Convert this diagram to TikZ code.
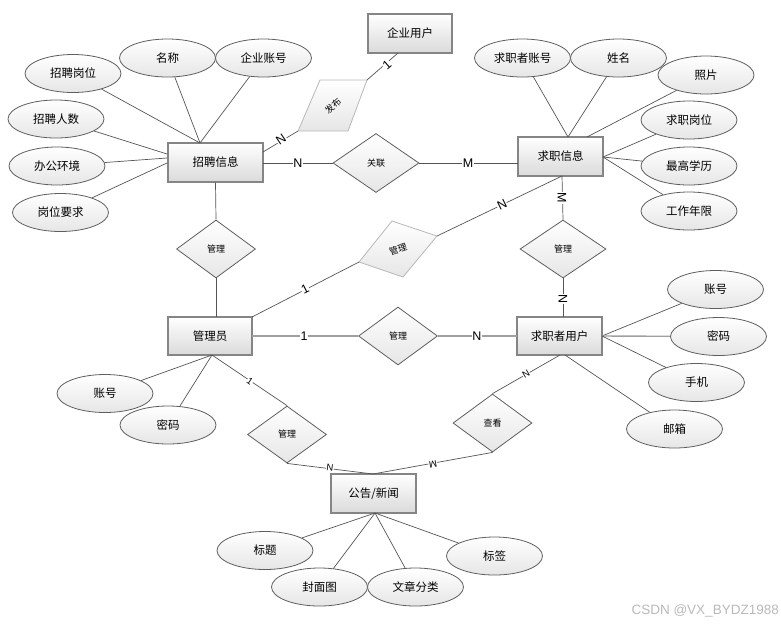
\documentclass[tikz,border=0pt]{standalone}
\usepackage{fontspec}
\setmainfont{Noto Sans CJK SC}
\newfontfamily\latf{Liberation Sans}
\usetikzlibrary{shapes.geometric,shadows}
\definecolor{lnc}{HTML}{555555}
\definecolor{entb}{HTML}{858585}
\definecolor{attb}{HTML}{5E5E5E}
\definecolor{relb}{HTML}{5E5E5E}
\definecolor{skb}{HTML}{B8B8B8}
\definecolor{fillb}{HTML}{DADADA}
\definecolor{fillc}{HTML}{E6E6E6}
\begin{document}
\begin{tikzpicture}[x=1pt,y=-1pt,
  ent/.style={rectangle, draw=entb, line width=1.1pt, top color=white, bottom color=fillb,
    minimum width=85pt, minimum height=39pt, inner sep=0pt,
    font=\fontsize{11.5pt}{13pt}\selectfont,
    drop shadow={shadow xshift=1.3pt,shadow yshift=-1.3pt,opacity=0.3}},
  attr/.style={ellipse, draw=attb, line width=0.8pt, top color=white, bottom color=fillc,
    minimum width=96pt, minimum height=38pt, inner sep=0pt,
    font=\fontsize{11.5pt}{13pt}\selectfont},
  rel/.style={diamond, draw=relb, line width=0.8pt, top color=white, bottom color=fillc,
    minimum width=79pt, minimum height=58pt, inner sep=0pt,
    font=\fontsize{9pt}{10pt}\selectfont},
  skew/.style={draw=skb, line width=0.8pt, top color=white, bottom color=fillc},
  dlabel/.style={inner sep=0pt, font=\fontsize{9pt}{10pt}\selectfont},
  ln/.style={draw=lnc, line width=0.7pt},
  lnt/.style={draw=gray!75, line width=1.4pt},
  card/.style={fill=white, inner sep=0.6pt, font=\latf\fontsize{12.5pt}{13pt}\selectfont},
  cards/.style={fill=white, inner sep=0.4pt, font=\latf\fontsize{9.5pt}{10pt}\selectfont}
]
\useasboundingbox (0,0) rectangle (781,625);

% ---------- entities ----------
\node[ent, minimum width=95pt] (zp) at (215.5,162.5) {招聘信息};
\node[ent, minimum width=84pt] (qy) at (410,33.5) {企业用户};
\node[ent] (qx) at (560.5,156.5) {求职信息};
\node[ent, minimum width=84pt, minimum height=38pt] (gly) at (210,336) {管理员};
\node[ent, minimum height=38pt] (qzy) at (559.5,336) {求职者用户};
\node[ent] (gg) at (373.5,493.5) {公告/新闻};

% ---------- attributes ----------
\node[attr] (a1) at (167.5,58) {名称};
\node[attr] (a2) at (263.5,58) {企业账号};
\node[attr] (a3) at (73,73.5) {招聘岗位};
\node[attr] (a4) at (56,119) {招聘人数};
\node[attr] (a5) at (57,166) {办公环境};
\node[attr] (a6) at (60.5,212.5) {岗位要求};

\node[attr] (b1) at (522.5,58) {求职者账号};
\node[attr] (b2) at (618.5,58) {姓名};
\node[attr] (b3) at (706,75) {照片};
\node[attr] (b4) at (689,120) {求职岗位};
\node[attr] (b5) at (689,166) {最高学历};
\node[attr] (b6) at (689,211) {工作年限};

\node[attr] (c1) at (715.5,289.5) {账号};
\node[attr] (c2) at (718.5,336.5) {密码};
\node[attr] (c3) at (696.5,382.5) {手机};
\node[attr] (c4) at (674.5,429) {邮箱};

\node[attr] (d1) at (105,393.5) {账号};
\node[attr] (d2) at (168,425) {密码};

\node[attr] (e1) at (265,550.5) {标题};
\node[attr] (e2) at (319.5,587) {封面图};
\node[attr] (e3) at (415.5,587) {文章分类};
\node[attr] (e4) at (494.5,556) {标签};

% ---------- relationships ----------
\node[rel, minimum width=86pt, minimum height=59pt] (rgl) at (376,163) {关联};
\node[rel] (rm1) at (216,249) {管理};
\node[rel, minimum width=86pt] (rm3) at (563,249) {管理};
\node[rel] (rm4) at (398,336) {管理};
\node[rel, minimum height=57pt] (rm5) at (287,434.5) {管理};
\node[rel] (rck) at (492.5,423) {查看};

% skewed relationship 发布
\coordinate (fbA) at (320,80);
\coordinate (fbB) at (367,80);
\coordinate (fbC) at (348,131);
\coordinate (fbD) at (298,131);
\shade[skew] (fbA) -- (fbB) -- (fbC) -- (fbD) -- cycle;
\node[dlabel, rotate=42] (fbt) at (333,105.5) {发布};

% skewed relationship 管理
\coordinate (smT) at (392,221);
\coordinate (smR) at (437,236);
\coordinate (smB) at (403,277);
\coordinate (smL) at (359,262);
\shade[skew] (smT) -- (smR) -- (smB) -- (smL) -- cycle;
\node[dlabel, rotate=18] (smt) at (398,249) {管理};

% ---------- connection points ----------
\coordinate (zpT) at (200,143);
\coordinate (zpL1) at (167,154);
\coordinate (zpL2) at (167,158);
\coordinate (zpL3) at (167,163);
\coordinate (zpR1) at (263,152);
\coordinate (zpR2) at (263,163);
\coordinate (qyB) at (398,53);
\coordinate (qxT1) at (568,137);
\coordinate (qxT2) at (587,137);
\coordinate (qxR) at (603,157);
\coordinate (qxL) at (518,163);
\coordinate (qxB) at (562,176);
\coordinate (glyT) at (216,317);
\coordinate (glyTR) at (252,317);
\coordinate (glyR) at (252,336);
\coordinate (glyB) at (212,355);
\coordinate (qzyT) at (563,317);
\coordinate (qzyL) at (517,336);
\coordinate (qzyR) at (602,336);
\coordinate (qzyB1) at (560,355);
\coordinate (qzyB2) at (565,355);
\coordinate (ggT) at (373,474);
\coordinate (ggB) at (375,513);

% ---------- attribute lines ----------
\draw[ln] (a1) -- (zpT);
\draw[ln] (a2) -- (zpT);
\draw[ln] (a3) -- (zpT);
\draw[ln] (a4) -- (zpL1);
\draw[ln] (a5) -- (zpL2);
\draw[ln] (a6) -- (zpL3);

\draw[ln] (b1) -- (qxT1);
\draw[ln] (b2) -- (qxT1);
\draw[ln] (b3) -- (qxT2);
\draw[ln] (b4) -- (qxR);
\draw[ln] (b5) -- (qxR);
\draw[ln] (b6) -- (qxR);

\draw[ln] (c1) -- (qzyR);
\draw[lnt] (c2) -- (qzyR);
\draw[ln] (c3) -- (qzyR);
\draw[ln] (c4) -- (qzyB2);

\draw[ln] (d1) -- (glyB);
\draw[ln] (d2) -- (glyB);

\draw[ln] (e1) -- (ggB);
\draw[ln] (e2) -- (ggB);
\draw[ln] (e3) -- (ggB);
\draw[ln] (e4) -- (ggB);

% ---------- relationship lines ----------
\draw[ln] (qyB) -- (fbB);
\draw[ln] (zpR1) -- (fbD);
\draw[ln] (zpR2) -- (rgl.west);
\draw[ln] (rgl.east) -- (qxL);
\draw[ln] (zp.south) -- (rm1.north);
\draw[ln] (rm1.south) -- (glyT);
\draw[ln] (glyTR) -- (smL);
\draw[ln] (smR) -- (qxB);
\draw[ln] (qxB) -- (rm3.north);
\draw[ln] (rm3.south) -- (qzyT);
\draw[lnt] (glyR) -- (rm4.west);
\draw[lnt] (rm4.east) -- (qzyL);
\draw[ln] (glyB) -- (rm5.north);
\draw[ln] (rm5.south) -- (ggT);
\draw[ln] (qzyB1) -- (rck.north);
\draw[ln] (rck.south) -- (ggT);

% ---------- cardinalities ----------
\node[card, rotate=41] (k1) at (387,65) {1};
\node[card, rotate=34] (k2) at (281,139) {N};
\node[card] (k3) at (298,163) {N};
\node[card] (k4) at (468,163) {M};
\node[card, rotate=26] (k5) at (502,205) {N};
\node[card, rotate=27] (k6) at (305,289) {1};
\node[card, rotate=-90] (k7) at (562,198) {M};
\node[card, rotate=-90] (k8) at (563,299) {N};
\node[card] (k9) at (304,336) {1};
\node[card] (k10) at (477,336) {N};
\node[cards, rotate=-34] (k11) at (250,381) {1};
\node[cards, rotate=-7] (k12) at (330,468) {N};
\node[cards, rotate=210] (k13) at (526,374) {N};
\node[cards, rotate=190] (k14) at (433,464) {M};

% ---------- watermark ----------
\node[anchor=east, inner sep=0pt, text=gray!55, font=\latf\fontsize{13.5pt}{15pt}\selectfont] (wm) at (779,611) {CSDN @VX\_BYDZ1988};
\end{tikzpicture}
\end{document}
